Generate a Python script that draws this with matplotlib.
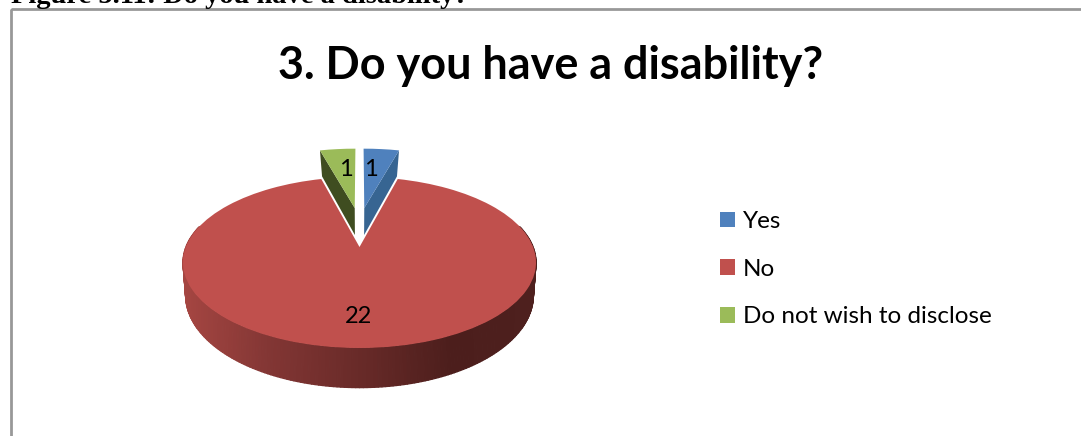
import numpy as np
import matplotlib
matplotlib.use('Agg')
import matplotlib.pyplot as plt
from matplotlib.collections import PolyCollection
from matplotlib.patches import Polygon, Rectangle
from matplotlib.transforms import Transform

#data
categories = ['Yes', 'No', 'Do not wish to disclose']
counts = [1, 22, 1]
title = '3. Do you have a disability?'
caption = 'Figure 5.11: Do you have a disability?'

#colours
face_cols = ['#4f81bd', '#c0504d', '#9bbb59']
wall_cols = ['#376592', None, '#3f4d20']
#red wall shading from left to right, by pixel x
wall_x = [183, 270, 360, 450, 536]
wall_rgb = np.array([[166, 70, 66], [130, 54, 52], [104, 42, 40], [76, 30, 28], [78, 32, 30]]) / 255

#perspective of the pie: top face and bottom face, pixel coordinates
CX = 359.5
TOP = dict(s=247.0, a=173.6, b=82.7, k=0.181)
BOT = dict(s=276.0, a=170.0, b=88.2, k=0.21)
#where the two small slices are pulled out to
SHIFT = [(0.03, 0.515), (0.0, 0.0), (-0.03, 0.515)]


def project(x, y, p):
    w = 1 + p['k'] * y
    return CX + p['a'] * x / w, p['s'] - p['b'] * y / w


class Persp(Transform):
    input_dims = 2
    output_dims = 2

    def transform_non_affine(self, xy):
        xy = np.asarray(xy)
        sx, sy = project(xy[:, 0], xy[:, 1], TOP)
        return np.column_stack([sx, sy])


fig = plt.figure(figsize=(10.81, 4.36), dpi=100)
ax = fig.add_axes([0, 0, 1, 1])

wedges, _ = ax.pie(counts, colors=face_cols, startangle=90, counterclock=False,
                   wedgeprops=dict(linewidth=0))
ax.set_aspect('auto')
ax.set_xlim(0, 1081)
ax.set_ylim(436, 0)
ax.axis('off')

#red side wall goes under everything
th = np.radians(np.linspace(165, 375, 211))
xt, yt = project(np.cos(th), np.sin(th), TOP)
xb, yb = project(np.cos(th), np.sin(th), BOT)
quads = [[(xt[i], yt[i]), (xt[i+1], yt[i+1]), (xb[i+1], yb[i+1]), (xb[i], yb[i])]
         for i in range(len(th) - 1)]
shade = np.column_stack([np.interp(xt[:-1], wall_x, wall_rgb[:, c]) for c in range(3)])
ax.add_collection(PolyCollection(quads, facecolors=shade, edgecolors='face', linewidths=0.9, zorder=1))

persp = Persp() + ax.transData
for i, w in enumerate(wedges):
    w.set_center(SHIFT[i])
    w.set_transform(persp)
    w.set_zorder(2 if i == 1 else 4)

#walls of the two small slices, along their inner edge
for i, edge in [(0, wedges[0].theta1), (2, wedges[2].theta2)]:
    ox, oy = SHIFT[i]
    ex = ox + np.cos(np.radians(edge))
    ey = oy + np.sin(np.radians(edge))
    pts = [project(ox, oy, TOP), project(ex, ey, TOP), project(ex, ey, BOT), project(ox, oy, BOT)]
    ax.add_patch(Polygon(pts, closed=True, facecolor=wall_cols[i], edgecolor='none', zorder=3))

#value labels
label_pos = [(371, 169), (358, 316), (346, 169)]
for v, (x, y) in zip(counts, label_pos):
    ax.text(x, y, str(v), fontsize=17, family='Lato', ha='center', va='center', color='black', zorder=5)

#frame and text, the frame runs off the picture on the right and at the bottom
ax.add_patch(Rectangle((10.5, 9.5), 1100, 440, fill=False, edgecolor='#989898', linewidth=2, zorder=0))
ax.text(550.5, 66, title, fontsize=32.4, family='Lato', fontweight='bold', ha='center', va='center', color='black')
ax.text(11, 3, caption, fontsize=20.5, family='Liberation Serif', fontweight='bold', ha='left', va='baseline', color='black')

ax.legend(wedges, categories, loc='upper left', bbox_to_anchor=(720 / 1081, 1 - 211 / 436),
          frameon=False, prop=dict(family='Lato', size=17.5), handlelength=0.62, handleheight=0.62,
          handletextpad=0.33, labelspacing=1.1, borderpad=0, borderaxespad=0)

fig.savefig('out.png', dpi=100)
